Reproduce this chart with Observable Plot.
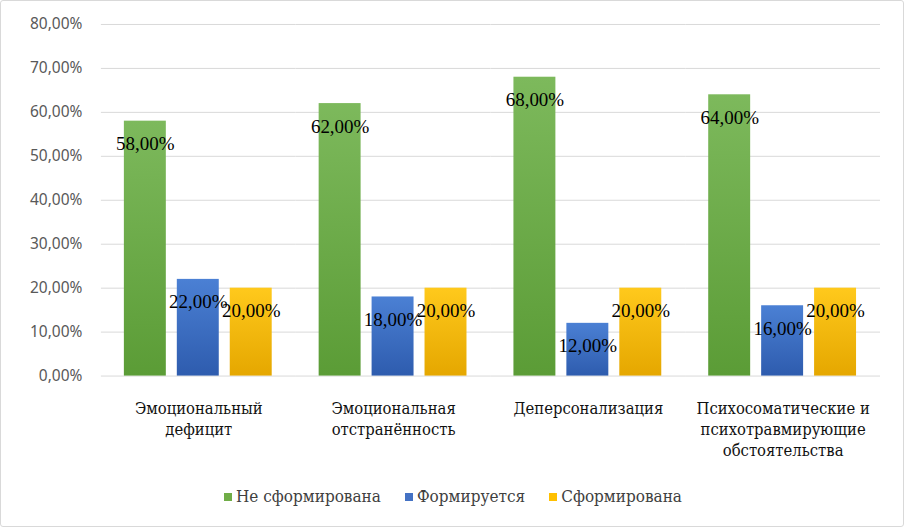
<!DOCTYPE html>
<html><head><meta charset="utf-8">
<script src="https://cdn.jsdelivr.net/npm/d3@7"></script>
<script src="https://cdn.jsdelivr.net/npm/@observablehq/plot@0.6"></script>
<style>
html,body{margin:0;padding:0;background:#fff;}
#wrap{position:relative;width:904px;height:527px;box-sizing:border-box;border:1px solid #d9d9d9;border-radius:3px;overflow:hidden;}
#chart{position:absolute;left:-1px;top:-1px;}
#legend{position:absolute;left:0;top:485px;width:904px;display:flex;justify-content:center;gap:24px;font-family:"DejaVu Serif Condensed","DejaVu Serif",serif;font-size:17px;color:#404040;}
#legend span.sw{display:inline-block;width:8px;height:8px;margin-right:4px;vertical-align:1px;}
</style></head>
<body>
<div id="wrap"><div id="chart"></div><div id="legend"></div></div>
<script>
const categories = ["Эмоциональный\nдефицит", "Эмоциональная\nотстранённость", "Деперсонализация", "Психосоматические и\nпсихотравмирующие\nобстоятельства"];
const series = ["Не сформирована", "Формируется", "Сформирована"];
const notFormed = [0.58, 0.62, 0.68, 0.64];
const forming = [0.22, 0.18, 0.12, 0.16];
const formed = [0.20, 0.20, 0.20, 0.20];
const yTicks = [0, 0.1, 0.2, 0.3, 0.4, 0.5, 0.6, 0.7, 0.8];
const gradients = [["gGreen", "#7db95c", "#5b9c36"], ["gBlue", "#4b80d4", "#2e5cae"], ["gYellow", "#ffc91c", "#e5a700"]];
const swatch = ["#70ad47", "#4472c4", "#ffc000"];

const allValues = [notFormed, forming, formed];
const data = [];
categories.forEach((c, i) => series.forEach((s, j) => data.push({category: c, series: s, value: allValues[j][i]})));

const fmt = v => (v * 100).toFixed(2).replace(".", ",") + "%";
const serif = "'Liberation Serif', 'DejaVu Serif', serif";
const cyrSerif = "'DejaVu Serif Condensed', 'DejaVu Serif', serif";

const plot = Plot.plot({
  width: 904,
  height: 470,
  marginLeft: 101,
  marginRight: 23,
  marginTop: 24,
  marginBottom: 94,
  style: {background: "transparent", overflow: "visible"},
  fx: {domain: categories, paddingInner: 0, paddingOuter: 0, label: null, axis: null},
  x: {domain: series, paddingInner: 0.204, paddingOuter: 0.408, axis: null},
  y: {domain: [0, 0.8], axis: null},
  color: {domain: series, range: gradients.map(g => `url(#${g[0]})`)},
  marks: [
    Plot.ruleY(yTicks, {stroke: "#d9d9d9", strokeWidth: 1}),
    Plot.axisY({ticks: yTicks, tickFormat: fmt, tickSize: 0, tickPadding: 19, label: null, fontSize: 15.5, fontFamily: "'Noto Sans', sans-serif", fill: "#595959"}),
    Plot.axisFx({anchor: "bottom", tickSize: 0, tickPadding: 23, lineHeight: 1.27, fontSize: 16.5, fontFamily: cyrSerif, fill: "#111", label: null}),
    Plot.barY(data, {fx: "category", x: "series", y: "value", fill: "series"}),
    Plot.text(data, {fx: "category", x: "series", y: "value", text: d => fmt(d.value), dy: 23, fontSize: 19, fontFamily: serif, fill: "#000"})
  ]
});

const svg = d3.select(plot);
const defs = svg.insert("defs", ":first-child");
gradients.forEach(([id, top, bottom]) => {
  const g = defs.append("linearGradient").attr("id", id).attr("x1", 0).attr("y1", 0).attr("x2", 0).attr("y2", 1);
  g.append("stop").attr("offset", "0%").attr("stop-color", top);
  g.append("stop").attr("offset", "100%").attr("stop-color", bottom);
});
document.getElementById("chart").appendChild(plot);

const legend = document.getElementById("legend");
series.forEach((s, i) => {
  const item = document.createElement("div");
  const sw = document.createElement("span");
  sw.className = "sw";
  sw.style.background = swatch[i];
  item.appendChild(sw);
  item.appendChild(document.createTextNode(s));
  legend.appendChild(item);
});
</script>
</body></html>
